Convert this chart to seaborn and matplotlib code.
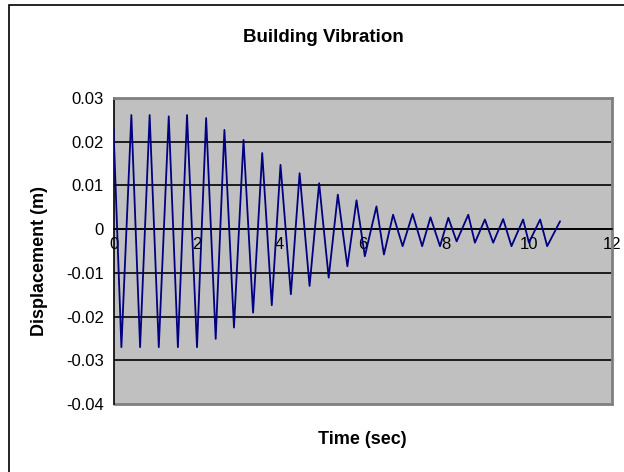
import pandas as pd
import matplotlib.pyplot as plt
import matplotlib.patches as mpatches
import seaborn as sns

# Peak / trough readings taken from the chart (time in sec, displacement in m)
time_sec = [0.0, 0.19, 0.43, 0.64, 0.87, 1.09, 1.33, 1.55, 1.77, 2.01,
            2.23, 2.46, 2.67, 2.90, 3.13, 3.36, 3.58, 3.81, 4.02, 4.27,
            4.48, 4.72, 4.95, 5.18, 5.40, 5.63, 5.85, 6.05, 6.33, 6.51,
            6.73, 6.96, 7.20, 7.43, 7.63, 7.86, 8.06, 8.26, 8.54, 8.70,
            8.94, 9.14, 9.38, 9.58, 9.86, 10.00, 10.27, 10.44, 10.75]
displacement = [0.0230, -0.0270, 0.0261, -0.0270, 0.0261, -0.0270, 0.0258, -0.0270, 0.0261, -0.0270,
                0.0254, -0.0251, 0.0227, -0.0225, 0.0204, -0.0191, 0.0174, -0.0174, 0.0147, -0.0149,
                0.0128, -0.0130, 0.0105, -0.0111, 0.0079, -0.0085, 0.0066, -0.0062, 0.0052, -0.0058,
                0.0033, -0.0039, 0.0035, -0.0039, 0.0027, -0.0039, 0.0026, -0.0028, 0.0033, -0.0031,
                0.0022, -0.0031, 0.0023, -0.0039, 0.0022, -0.0031, 0.0022, -0.0039, 0.0018]

x_ticks = [0, 2, 4, 6, 8, 10, 12]
y_ticks = [0.03, 0.02, 0.01, 0, -0.01, -0.02, -0.03, -0.04]
y_labels = ['0.03', '0.02', '0.01', '0', '-0.01', '-0.02', '-0.03', '-0.04']

df = pd.DataFrame({'time': time_sec, 'disp': displacement})

sns.set_style("white")
plt.rcParams['font.family'] = ['Liberation Sans', 'DejaVu Sans']
plt.rcParams['text.color'] = 'black'

fig = plt.figure(figsize=(6.24, 4.72), dpi=100)
ax = fig.add_axes([113.5 / 624, 1 - 404 / 472, (612 - 113.5) / 624, (404 - 98) / 472])
ax.set_facecolor('#c0c0c0')

# outer chart frame
fig.patches.append(mpatches.Rectangle((9 / 624, -0.1), 1.2, 1 - 5 / 472 + 0.1,
                                      transform=fig.transFigure, fill=False,
                                      edgecolor='black', lw=1.2))

sns.lineplot(x='time', y='disp', data=df, color='#000080', lw=1.3, ax=ax, zorder=3)

ax.set_xlim(0, 12)
ax.set_ylim(-0.04, 0.03)
ax.set_xticks(x_ticks)
ax.set_xticklabels([str(t) for t in x_ticks])
ax.set_yticks(y_ticks)
ax.set_yticklabels(y_labels)

# horizontal gridlines in black
ax.yaxis.grid(True, color='black', lw=1.2, zorder=1)
for tick, gl in zip(ax.get_yticks(), ax.get_ygridlines()):
    if tick in (0.03, -0.04):
        gl.set_visible(False)
ax.set_axisbelow(True)

# x axis crosses at zero
ax.spines['bottom'].set_position(('data', 0))
ax.spines['bottom'].set_color('black')
ax.spines['bottom'].set_linewidth(1.2)
ax.spines['left'].set_color('black')
ax.spines['left'].set_linewidth(1.2)
for side in ('top', 'right'):
    ax.spines[side].set_color('#808080')
    ax.spines[side].set_linewidth(2)
ax.axhline(-0.04, color='#808080', lw=2, clip_on=False)

ax.tick_params(axis='x', direction='out', length=5, width=1, color='black', pad=1,
               labelsize=12, labelcolor='black')
ax.tick_params(axis='y', direction='out', length=5, width=1, color='black', pad=2,
               labelsize=12, labelcolor='black')

ax.set_xlabel('')
ax.set_ylabel('')
fig.text(40 / 624, 1 - 261 / 472, 'Displacement (m)', fontsize=13, fontweight='bold',
         rotation=90, ha='center', va='center')
fig.text(362 / 624, 1 - 440 / 472, 'Time (sec)', fontsize=13, fontweight='bold',
         ha='center', va='center')
fig.text(323 / 624, 1 - 37 / 472, 'Building Vibration', fontsize=13.5, fontweight='bold',
         ha='center', va='center')

plt.savefig('out.png', dpi=100)
